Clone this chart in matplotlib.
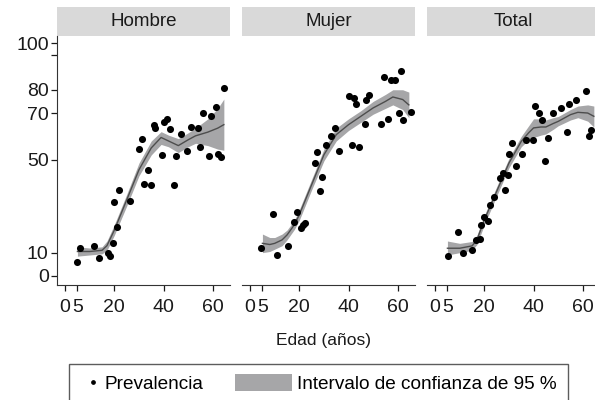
import matplotlib
matplotlib.use("Agg")
import matplotlib.pyplot as plt
from matplotlib.patches import Rectangle
from matplotlib.lines import Line2D
from matplotlib.legend_handler import HandlerBase

plt.rcParams['font.family'] = ['Liberation Sans', 'DejaVu Sans']

panels = ['Hombre', 'Mujer', 'Total']

# observed prevalence (age, %)
hombre_x = [4.9, 5.9, 11.8, 13.9, 17.4, 18.4, 19.3, 20.0, 21.0, 21.8, 26.3, 30.0, 31.2, 32.1,
            33.5, 35.1, 36.2, 36.6, 39.2, 40.1, 41.2, 42.6, 44.1, 45.2, 47.2, 49.5, 51.3,
            54.1, 55.0, 56.2, 58.4, 59.2, 61.2, 62.2, 63.5, 64.4]
hombre_y = [5.9, 11.9, 12.9, 7.9, 9.8, 8.6, 14.3, 31.7, 21.0, 36.9, 32.4, 54.7, 58.8, 39.7,
            45.5, 39.0, 65.0, 63.5, 51.8, 66.0, 67.6, 63.1, 39.2, 51.4, 61.0, 53.5, 64.1,
            63.5, 55.2, 70.0, 51.4, 68.6, 72.6, 52.5, 50.9, 80.8]

mujer_x = [4.6, 9.1, 11.0, 15.3, 18.0, 19.1, 20.5, 21.5, 22.5, 26.2, 27.2, 28.3, 29.3, 31.0,
           32.9, 34.3, 36.3, 40.2, 41.2, 42.1, 43.1, 44.3, 46.7, 47.2, 48.2, 53.3, 54.5,
           56.2, 57.4, 58.8, 60.4, 61.5, 62.3, 65.2]
mujer_y = [11.9, 26.8, 9.0, 13.0, 23.0, 27.5, 20.5, 22.0, 22.7, 48.5, 53.4, 36.7, 42.3, 56.1,
           60.0, 63.7, 53.7, 77.3, 56.4, 76.3, 73.9, 55.2, 65.4, 75.8, 77.9, 65.4, 85.4,
           67.4, 84.4, 84.4, 70.0, 88.2, 66.9, 70.4]

total_x = [5.3, 9.3, 11.2, 15.1, 16.6, 18.1, 18.6, 20.0, 21.5, 22.2, 23.8, 26.2, 27.4, 28.4,
           29.6, 30.1, 31.4, 32.7, 35.5, 36.8, 39.6, 40.5, 42.2, 43.5, 44.5, 45.7, 48.1,
           51.1, 53.4, 54.3, 57.2, 61.4, 62.6, 63.4]
total_y = [8.6, 18.7, 10.0, 11.2, 15.5, 15.8, 22.0, 25.5, 23.8, 30.6, 34.0, 42.0, 44.2, 37.0,
           43.2, 52.5, 57.1, 47.1, 52.5, 58.5, 58.5, 72.9, 70.0, 67.1, 49.2, 59.3, 70.0,
           72.2, 61.7, 74.0, 75.8, 79.6, 60.0, 62.8]

# smoothed curve with 95 % band
hombre_age = [5, 10, 15, 17, 20, 25, 30, 35, 39, 42, 46, 50, 53, 58, 62, 64.5]
hombre_fit = [10.5, 10.5, 11.0, 13.0, 19.7, 32.6, 45.6, 55.0, 59.5, 58.0, 56.0, 58.5, 60.2, 61.8, 63.5, 65.0]
hombre_lo = [8.5, 9.0, 9.5, 11.0, 17.5, 30.0, 43.0, 52.0, 56.5, 55.5, 53.0, 55.5, 57.0, 56.0, 54.5, 54.0]
hombre_hi = [12.5, 12.0, 12.5, 15.0, 22.0, 35.0, 48.5, 58.0, 62.0, 60.5, 59.0, 61.5, 63.5, 67.5, 72.0, 76.0]

mujer_age = [5, 8, 10, 13, 15, 18, 20, 25, 30, 35, 40, 45, 50, 55, 58, 62, 64.5]
mujer_fit = [14.0, 13.5, 14.0, 15.5, 17.6, 22.0, 26.3, 39.2, 52.1, 60.7, 65.0, 68.6, 72.2, 75.0, 76.9, 75.8, 73.5]
mujer_lo = [10.0, 10.5, 11.5, 13.0, 15.5, 20.0, 24.0, 37.0, 49.5, 58.0, 62.5, 66.0, 69.5, 72.0, 73.5, 71.5, 68.0]
mujer_hi = [18.0, 16.5, 16.5, 18.0, 19.7, 24.0, 28.5, 41.5, 54.5, 63.5, 67.5, 71.0, 75.0, 78.0, 80.0, 80.0, 79.0]

total_age = [5, 10, 15, 17, 20, 25, 30, 35, 38, 40, 43, 45, 48, 50, 55, 58, 62, 64.5]
total_fit = [11.9, 11.9, 12.9, 15.5, 24.1, 36.3, 48.5, 57.8, 61.5, 63.6, 64.0, 64.0, 65.5, 66.4, 69.3, 70.3, 70.0, 68.6]
total_lo = [9.0, 10.0, 11.0, 13.5, 22.0, 34.3, 46.5, 55.5, 58.5, 59.5, 60.5, 61.0, 63.0, 64.5, 67.0, 68.0, 66.5, 64.0]
total_hi = [15.0, 14.0, 14.8, 17.5, 26.0, 38.3, 50.5, 60.0, 64.5, 67.5, 67.5, 67.0, 68.0, 68.5, 71.5, 73.0, 73.5, 73.0]

points = [(hombre_x, hombre_y), (mujer_x, mujer_y), (total_x, total_y)]
curves = [(hombre_age, hombre_fit, hombre_lo, hombre_hi),
          (mujer_age, mujer_fit, mujer_lo, mujer_hi),
          (total_age, total_fit, total_lo, total_hi)]

x_ticks = [0, 5, 20, 40, 60]
y_ticks = [0, 10, 50, 70, 80, 95, 100]
y_labels = ['0', '10', '50', '70', '80', '', '100']

band_col = '#a6a6a8'
line_col = '#4d4d4d'

fig = plt.figure(figsize=(5.95, 4.0), dpi=100)
lefts = [57 / 595, 242 / 595, 427 / 595]
ax_w = 173 / 595
ax_b = 115 / 400
ax_h = 249 / 400

for i, name in enumerate(panels):
    ax = fig.add_axes([lefts[i], ax_b, ax_w, ax_h])
    age, fit, lo, hi = curves[i]
    ax.fill_between(age, lo, hi, color=band_col, lw=0, zorder=1)
    ax.plot(age, fit, color=line_col, lw=1.0, zorder=2)
    ax.scatter(points[i][0], points[i][1], s=26, color='black', lw=0, zorder=3)

    ax.set_xlim(-3.3, 67)
    ax.set_ylim(-3.9, 103.1)
    ax.set_xticks(x_ticks)
    ax.set_xticklabels([str(t) for t in x_ticks])
    ax.tick_params(axis='x', length=4, width=0.9, pad=6, labelsize=14, colors='#1a1a1a')
    ax.spines['top'].set_visible(False)
    ax.spines['right'].set_visible(False)
    ax.spines['bottom'].set_color('#333333')
    if i == 0:
        ax.set_yticks(y_ticks)
        ax.set_yticklabels(y_labels)
        ax.tick_params(axis='y', length=4, width=0.9, pad=2, labelsize=14, colors='#1a1a1a')
        ax.spines['left'].set_color('#333333')
    else:
        ax.set_yticks([])
        ax.spines['left'].set_visible(False)

    # facet strip
    strip_h = 29 / 249
    ax.add_patch(Rectangle((0, 1), 1, strip_h, transform=ax.transAxes,
                           facecolor='#d9d9d9', edgecolor='none', clip_on=False))
    ax.text(0.5, 1 + strip_h / 2, name, transform=ax.transAxes, ha='center',
            va='center', fontsize=13.5, color='#1a1a1a')

fig.text(323 / 595, 1 - 340 / 400, 'Edad (años)', ha='center', va='center',
         fontsize=12.5, color='#1a1a1a')


class DotHandler(HandlerBase):
    def create_artists(self, legend, orig_handle, xdescent, ydescent, width,
                       height, fontsize, trans):
        return [Line2D([width - 0.35 * fontsize - xdescent], [height / 2 - ydescent],
                       marker='o', ms=2.4, color='black', lw=0, transform=trans)]


class BandHandler(HandlerBase):
    def create_artists(self, legend, orig_handle, xdescent, ydescent, width,
                       height, fontsize, trans):
        w, h = 41, 12.2
        return [Rectangle((width - w - xdescent, height / 2 - h / 2 - ydescent), w, h,
                          facecolor=band_col, edgecolor='none', transform=trans)]


dot = Line2D([], [])
band = Rectangle((0, 0), 1, 1)
leg = fig.legend([dot, band], ['Prevalencia', 'Intervalo de confianza de 95 %'],
                 loc='upper left', bbox_to_anchor=(69 / 595, 1 - 364 / 400),
                 ncol=2, fontsize=13.7, frameon=True, fancybox=False,
                 edgecolor='#333333', borderpad=0.6, borderaxespad=0,
                 handlelength=1.0, handletextpad=0.27, columnspacing=3.65,
                 handler_map={dot: DotHandler(), band: BandHandler()})
leg.get_frame().set_linewidth(1.0)

fig.savefig('out.png', dpi=100)
